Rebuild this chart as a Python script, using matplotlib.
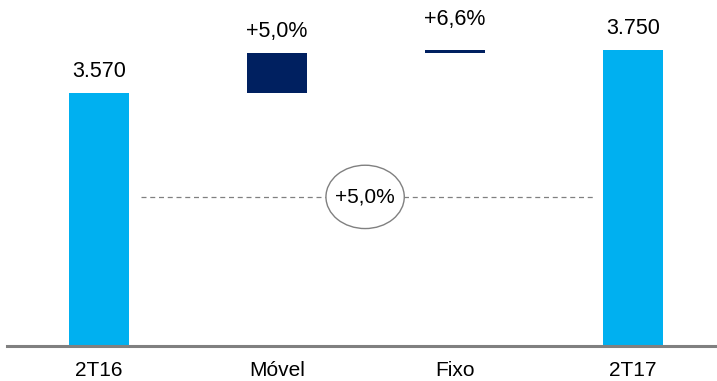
import matplotlib.pyplot as plt
from matplotlib.patches import Ellipse

plt.rcParams['font.family'] = ['Liberation Sans', 'DejaVu Sans']

# data
categories = ['2T16', 'Móvel', 'Fixo', '2T17']
start_value = 3570
end_value = 3750
deltas = [167, 13]
delta_labels = ['+5,0%', '+6,6%']
value_labels = ['3.570', '3.750']
total_growth = '+5,0%'

light_blue = '#00B0F0'
navy = '#002060'

fig = plt.figure(figsize=(7.17, 3.81), dpi=100)
ax = fig.add_axes([7 / 717, 35 / 381, 710 / 717, 346 / 381])

w = 0.337
x = range(len(categories))

# end bars
ax.bar(0, start_value, width=w, color=light_blue)
ax.bar(3, end_value, width=w, color=light_blue)

# floating deltas
bottom = start_value
for i, d in enumerate(deltas):
    ax.bar(i + 1, d, bottom=bottom, width=w, color=navy)
    bottom += d

# labels
fs = 15.5
ax.annotate(value_labels[0], (0, start_value), xytext=(0, 8), textcoords='offset points',
            ha='center', va='bottom', fontsize=fs)
ax.annotate(value_labels[1], (3, end_value), xytext=(0, 8), textcoords='offset points',
            ha='center', va='bottom', fontsize=fs)
ax.annotate(delta_labels[0], (1, start_value + deltas[0]), xytext=(0, 8), textcoords='offset points',
            ha='center', va='bottom', fontsize=fs)
ax.annotate(delta_labels[1], (2, start_value + sum(deltas)), xytext=(0, 14), textcoords='offset points',
            ha='center', va='bottom', fontsize=fs)

# dashed growth line with circled label
line_y = 3135
ax.plot([0.236, 2.787], [line_y, line_y], ls=(0, (4, 3)), color='#808080', lw=0.9, zorder=1)
ell = Ellipse((1.495, line_y), width=0.44, height=265, facecolor='white',
              edgecolor='#808080', lw=1.0, zorder=2)
ax.add_patch(ell)
ax.text(1.495, line_y, total_growth, ha='center', va='center', fontsize=15, zorder=3)

ax.set_xlim(-0.517, 3.472)
ax.set_ylim(2511, 3959)
ax.set_xticks(list(x))
ax.set_xticklabels(categories, fontsize=15)
ax.tick_params(axis='x', length=0, pad=11)
ax.set_yticks([])
for s in ['top', 'right', 'left']:
    ax.spines[s].set_visible(False)
ax.spines['bottom'].set_color('#808080')
ax.spines['bottom'].set_linewidth(2.2)

fig.savefig('out.png', dpi=100)
